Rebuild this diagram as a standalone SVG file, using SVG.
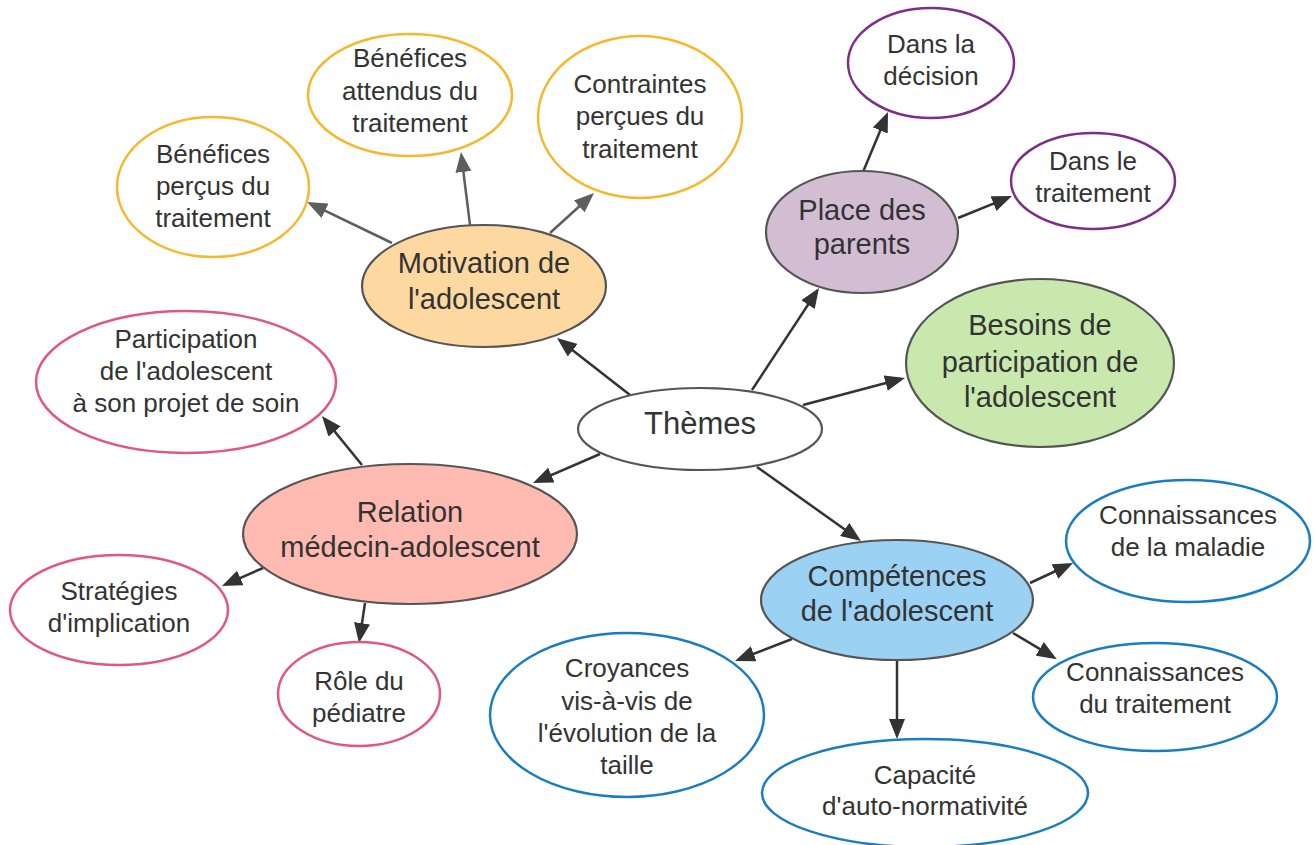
<svg xmlns="http://www.w3.org/2000/svg" width="1314" height="845" viewBox="0 0 1314 845">
<style>
text{font-family:"Liberation Sans",Arial,sans-serif;fill:#333;text-anchor:middle}
.leaf{font-size:26px}
.main{font-size:29px}
.top{font-size:31px}
.y{fill:#fff;stroke:#f5b82e;stroke-width:2.5}
.p{fill:#fff;stroke:#e0587f;stroke-width:2.5}
.v{fill:#fff;stroke:#7f2d8b;stroke-width:2.5}
.b{fill:#fff;stroke:#1a7dc2;stroke-width:2.5}
.m{stroke:#555;stroke-width:2.2}
.c line{stroke:#333;stroke-width:2.5}
.c line.g{stroke:#5e5e5e}
</style>
<defs>
<marker id="ah" markerUnits="userSpaceOnUse" markerWidth="20" markerHeight="16" refX="14" refY="8" orient="auto"><path d="M0,0 L20,8 L0,16 z" fill="#333"/></marker>
<marker id="ahg" markerUnits="userSpaceOnUse" markerWidth="20" markerHeight="16" refX="14" refY="8" orient="auto"><path d="M0,0 L20,8 L0,16 z" fill="#5e5e5e"/></marker>
</defs>
<rect width="1314" height="845" fill="#fff"/>
<g id="connectors" class="c">
<line x1="630" y1="395" x2="561.7" y2="341.7" marker-end="url(#ah)"/>
<line x1="752" y1="390" x2="815.7" y2="293" marker-end="url(#ah)"/>
<line x1="803" y1="405" x2="899.2" y2="379.5" marker-end="url(#ah)"/>
<line x1="600" y1="454" x2="538.5" y2="480.6" marker-end="url(#ah)"/>
<line x1="757" y1="467" x2="856.1" y2="537.5" marker-end="url(#ah)"/>
<line class="g" x1="392" y1="243" x2="312.4" y2="204.6" marker-end="url(#ahg)"/>
<line class="g" x1="470" y1="225" x2="461.7" y2="158" marker-end="url(#ahg)"/>
<line class="g" x1="550" y1="233" x2="589.6" y2="197" marker-end="url(#ahg)"/>
<line x1="863" y1="172" x2="885.7" y2="117.5" marker-end="url(#ah)"/>
<line x1="958" y1="218" x2="1006.4" y2="198.3" marker-end="url(#ah)"/>
<line x1="362" y1="465" x2="325.8" y2="420.6" marker-end="url(#ah)"/>
<line x1="263" y1="568" x2="227.5" y2="583.6" marker-end="url(#ah)"/>
<line x1="365" y1="603" x2="359.9" y2="637.1" marker-end="url(#ah)"/>
<line x1="1030" y1="583" x2="1067.6" y2="565.5" marker-end="url(#ah)"/>
<line x1="1013" y1="633" x2="1051.7" y2="656.1" marker-end="url(#ah)"/>
<line x1="897" y1="660" x2="897" y2="733" marker-end="url(#ah)"/>
<line x1="792" y1="639" x2="740.6" y2="658.8" marker-end="url(#ah)"/>
</g>
<g id="themes"><ellipse cx="700" cy="429" rx="122" ry="41" fill="#fff" class="m"/><text class="top" x="700" y="434">Thèmes</text></g>
<g id="motivation"><ellipse cx="484" cy="286" rx="122" ry="61" fill="#fdd9a1" class="m"/><text class="main" x="484" y="273">Motivation de</text><text class="main" x="484" y="309">l'adolescent</text></g>
<g id="benefices-percus"><ellipse cx="213" cy="187" rx="96" ry="70" class="y"/><text class="leaf" x="213" y="163">Bénéfices</text><text class="leaf" x="213" y="195">perçus du</text><text class="leaf" x="213" y="227">traitement</text></g>
<g id="benefices-attendus"><ellipse cx="410" cy="95" rx="102" ry="61" class="y"/><text class="leaf" x="410" y="67">Bénéfices</text><text class="leaf" x="410" y="100">attendus du</text><text class="leaf" x="410" y="132">traitement</text></g>
<g id="contraintes"><ellipse cx="640" cy="117" rx="102" ry="81" class="y"/><text class="leaf" x="640" y="93">Contraintes</text><text class="leaf" x="640" y="125">perçues du</text><text class="leaf" x="640" y="158">traitement</text></g>
<g id="parents"><ellipse cx="862" cy="232" rx="96" ry="61" fill="#d3bdd3" class="m"/><text class="main" x="862" y="220">Place des</text><text class="main" x="862" y="254">parents</text></g>
<g id="decision"><ellipse cx="931" cy="63" rx="83" ry="55" class="v"/><text class="leaf" x="931" y="53">Dans la</text><text class="leaf" x="931" y="85">décision</text></g>
<g id="dans-traitement"><ellipse cx="1093" cy="181" rx="82" ry="48" class="v"/><text class="leaf" x="1093" y="170">Dans le</text><text class="leaf" x="1093" y="202">traitement</text></g>
<g id="besoins"><ellipse cx="1040" cy="363" rx="134" ry="84" fill="#c8e8ad" class="m"/><text class="main" x="1040" y="335">Besoins de</text><text class="main" x="1040" y="372">participation de</text><text class="main" x="1040" y="407">l'adolescent</text></g>
<g id="participation"><ellipse cx="186" cy="382" rx="150" ry="71" class="p"/><text class="leaf" x="186" y="348">Participation</text><text class="leaf" x="186" y="380">de l'adolescent</text><text class="leaf" x="186" y="412">à son projet de soin</text></g>
<g id="relation"><ellipse cx="410" cy="534" rx="167" ry="70" fill="#ffbbb1" class="m"/><text class="main" x="410" y="522">Relation</text><text class="main" x="410" y="557">médecin-adolescent</text></g>
<g id="strategies"><ellipse cx="119" cy="610" rx="109" ry="55" class="p"/><text class="leaf" x="119" y="600">Stratégies</text><text class="leaf" x="119" y="632">d'implication</text></g>
<g id="role"><ellipse cx="359" cy="694" rx="81" ry="52" class="p"/><text class="leaf" x="359" y="690">Rôle du</text><text class="leaf" x="359" y="722">pédiatre</text></g>
<g id="competences"><ellipse cx="897" cy="600" rx="136" ry="60" fill="#9bd1f2" class="m"/><text class="main" x="897" y="586">Compétences</text><text class="main" x="897" y="621">de l'adolescent</text></g>
<g id="conn-maladie"><ellipse cx="1188" cy="541" rx="122" ry="61" class="b"/><text class="leaf" x="1188" y="524">Connaissances</text><text class="leaf" x="1188" y="556">de la maladie</text></g>
<g id="conn-traitement"><ellipse cx="1155" cy="697" rx="122" ry="54" class="b"/><text class="leaf" x="1155" y="681">Connaissances</text><text class="leaf" x="1155" y="713">du traitement</text></g>
<g id="capacite"><ellipse cx="925" cy="793" rx="163" ry="54" class="b"/><text class="leaf" x="925" y="784">Capacité</text><text class="leaf" x="925" y="815">d'auto-normativité</text></g>
<g id="croyances"><ellipse cx="627" cy="715" rx="137" ry="82" class="b"/><text class="leaf" x="627" y="677">Croyances</text><text class="leaf" x="627" y="710">vis-à-vis de</text><text class="leaf" x="627" y="742">l'évolution de la</text><text class="leaf" x="627" y="774">taille</text></g>
</svg>
